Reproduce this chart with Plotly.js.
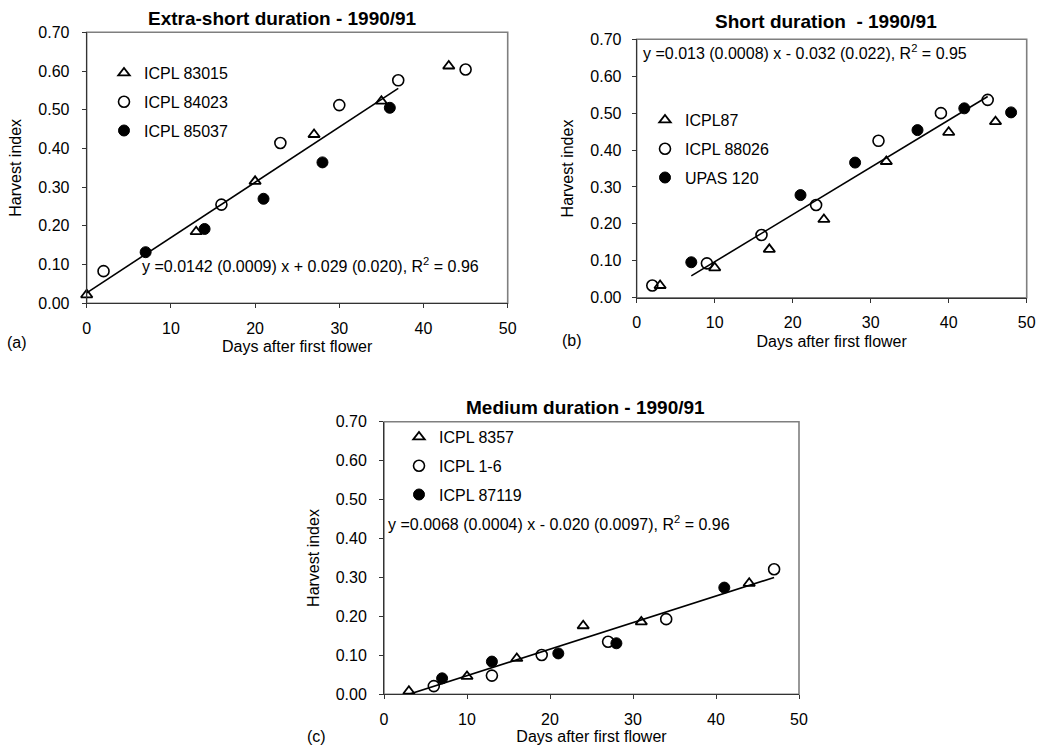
<!DOCTYPE html>
<html>
<head>
<meta charset="utf-8">
<script src="https://cdn.plot.ly/plotly-3.0.1.min.js"></script>
<style>html,body{margin:0;padding:0;background:#fff;}#chart{width:1046px;height:745px;}</style>
</head>
<body>
<div id="chart"></div>
<script>
// ---------- Panel (a): Extra-short duration ----------
const aTriX = [0, 13, 20, 27, 35, 43];
const aTriY = [0.022, 0.185, 0.315, 0.436, 0.522, 0.613];
const aOpenX = [2, 16, 23, 30, 37, 45];
const aOpenY = [0.083, 0.255, 0.414, 0.512, 0.576, 0.604];
const aFillX = [7, 14, 21, 28, 36];
const aFillY = [0.132, 0.192, 0.27, 0.364, 0.505];
const aFitX = [0, 37];
const aFitY = [0.027, 0.555];
const aNames = ["ICPL 83015", "ICPL 84023", "ICPL 85037"];
const aTitle = "Extra-short duration - 1990/91";
const aEq = "y =0.0142 (0.0009) x + 0.029 (0.020), R<sup>2</sup> = 0.96";

// ---------- Panel (b): Short duration ----------
const bTriX = [3, 10, 17, 24, 32, 40, 46];
const bTriY = [0.033, 0.081, 0.131, 0.212, 0.369, 0.448, 0.477];
const bOpenX = [2, 9, 16, 23, 31, 39, 45];
const bOpenY = [0.033, 0.093, 0.17, 0.251, 0.425, 0.5, 0.536];
const bFillX = [7, 21, 28, 36, 42, 48];
const bFillY = [0.096, 0.278, 0.366, 0.454, 0.513, 0.502];
const bFitX = [7, 45];
const bFitY = [0.059, 0.545];
const bNames = ["ICPL87", "ICPL 88026", "UPAS 120"];
const bTitle = "Short duration  - 1990/91";
const bEq = "y =0.013 (0.0008) x - 0.032 (0.022), R<sup>2</sup> = 0.95";

// ---------- Panel (c): Medium duration ----------
const cTriX = [3, 10, 16, 24, 31, 44];
const cTriY = [0.008, 0.046, 0.092, 0.176, 0.186, 0.285];
const cOpenX = [6, 13, 19, 27, 34, 47];
const cOpenY = [0.021, 0.048, 0.101, 0.135, 0.193, 0.321];
const cFillX = [7, 13, 21, 28, 41];
const cFillY = [0.041, 0.084, 0.105, 0.131, 0.274];
const cFitX = [3, 47];
const cFitY = [0.0, 0.30];
const cNames = ["ICPL 8357", "ICPL 1-6", "ICPL 87119"];
const cTitle = "Medium duration - 1990/91";
const cEq = "y =0.0068 (0.0004) x - 0.020 (0.0097), R<sup>2</sup> = 0.96";

const xTitle = "Days after first flower";
const yTitle = "Harvest index";
const panelLabels = ["(a)", "(b)", "(c)"];

const FONT = "Liberation Sans, Arial, Helvetica, sans-serif";
const W = 1046, H = 745;
const px = v => v / W;
const py = v => 1 - v / H;

function panelTraces(xa, ya, leg, tri, open, fill, fit, names) {
  const common = {type: "scatter", mode: "markers", xaxis: xa, yaxis: ya, legend: leg, cliponaxis: false, hoverinfo: "x+y"};
  return [
    Object.assign({}, common, {x: tri[0], y: tri[1], name: names[0], legendgroup: leg + "g1",
      marker: {symbol: "triangle-up-open", size: 10, color: "#000", line: {color: "#000", width: 1.8}}}),
    Object.assign({}, common, {x: open[0], y: open[1], name: names[1], legendgroup: leg + "g2",
      marker: {symbol: "circle-open", size: 11, color: "#000", line: {color: "#000", width: 1.6}}}),
    Object.assign({}, common, {x: fill[0], y: fill[1], name: names[2], legendgroup: leg + "g3",
      marker: {symbol: "circle", size: 11, color: "#000", line: {color: "#000", width: 1}}}),
    {type: "scatter", mode: "lines", x: fit[0], y: fit[1], xaxis: xa, yaxis: ya, showlegend: false,
      line: {color: "#000", width: 1.6}, hoverinfo: "skip"}
  ];
}

const data = [].concat(
  panelTraces("x", "y", "legend", [aTriX, aTriY], [aOpenX, aOpenY], [aFillX, aFillY], [aFitX, aFitY], aNames),
  panelTraces("x2", "y2", "legend2", [bTriX, bTriY], [bOpenX, bOpenY], [bFillX, bFillY], [bFitX, bFitY], bNames),
  panelTraces("x3", "y3", "legend3", [cTriX, cTriY], [cOpenX, cOpenY], [cFillX, cFillY], [cFitX, cFitY], cNames)
);

const tickFont = {family: FONT, size: 16, color: "#000"};
function xAxis(dom, anchor, standoffLab) {
  return {domain: dom, anchor: anchor, range: [0, 50], tick0: 0, dtick: 10, ticks: "outside", ticklen: 4,
    tickwidth: 1, tickcolor: "#333", showline: true, linecolor: "#333", linewidth: 1, showgrid: false,
    zeroline: false, tickfont: tickFont, ticklabelstandoff: standoffLab, fixedrange: true,
    title: {text: xTitle, font: {family: FONT, size: 16, color: "#000"}, standoff: 5}};
}
function yAxis(dom, anchor, standoffLab, titleStandoff) {
  return {domain: dom, anchor: anchor, range: [0, 0.7], tick0: 0, dtick: 0.1, tickformat: ".2f", ticks: "outside",
    ticklen: 4, tickwidth: 1, tickcolor: "#333", showline: true, linecolor: "#333", linewidth: 1, showgrid: false,
    zeroline: false, tickfont: tickFont, ticklabelstandoff: standoffLab, fixedrange: true,
    title: {text: yTitle, font: {family: FONT, size: 16, color: "#000"}, standoff: titleStandoff}};
}
function xOver(base, anchor) {
  return {overlaying: base, anchor: anchor, range: [0, 50], tick0: 0, dtick: 10, ticks: "inside", ticklen: 4,
    tickwidth: 1, tickcolor: "#333", showticklabels: false, showline: false, showgrid: false, zeroline: false, fixedrange: true};
}
function yOver(base, anchor) {
  return {overlaying: base, anchor: anchor, range: [0, 0.7], tick0: 0, dtick: 0.1, ticks: "inside", ticklen: 4,
    tickwidth: 1, tickcolor: "#333", showticklabels: false, showline: false, showgrid: false, zeroline: false, fixedrange: true};
}
function legendBox(x, y) {
  return {x: x, y: y, xanchor: "left", yanchor: "top", bgcolor: "rgba(0,0,0,0)", borderwidth: 0,
    traceorder: "grouped", tracegroupgap: 5, font: {family: FONT, size: 16, color: "#000"}};
}
function boxShape(xr, yr) {
  return {type: "rect", xref: xr + " domain", yref: yr + " domain", x0: 0, x1: 1, y0: 0, y1: 1,
    line: {color: "#7f7f7f", width: 1.6}, layer: "below"};
}
function note(text, x, y, opts) {
  return Object.assign({text: text, xref: "paper", yref: "paper", x: x, y: y, showarrow: false,
    xanchor: "left", yanchor: "middle", font: {family: FONT, size: 16, color: "#000"}}, opts || {});
}

const aX = [px(86.7), px(507.7)], aY = [py(303.3), py(32.3)];
const bX = [px(636.7), px(1026.7)], bY = [py(297.7), py(39.3)];
const cX = [px(384), px(799)], cY = [py(694.3), py(421.7)];

const layout = {
  width: W, height: H,
  margin: {l: 0, r: 0, t: 0, b: 0},
  paper_bgcolor: "#fff", plot_bgcolor: "rgba(0,0,0,0)",
  font: {family: FONT, size: 16, color: "#000"},
  xaxis: xAxis(aX, "y", 6), yaxis: yAxis(aY, "x", 9, 12),
  xaxis2: xAxis(bX, "y2", 6), yaxis2: yAxis(bY, "x2", 7, 12),
  xaxis3: xAxis(cX, "y3", 6), yaxis3: yAxis(cY, "x3", 9, 12),
  xaxis4: xOver("x", "y"), yaxis4: yOver("y", "x"),
  xaxis5: xOver("x2", "y2"), yaxis5: yOver("y2", "x2"),
  xaxis6: xOver("x3", "y3"), yaxis6: yOver("y3", "x3"),
  legend: legendBox(px(104), py(56)),
  legend2: legendBox(px(645), py(103)),
  legend3: legendBox(px(399), py(420)),
  shapes: [boxShape("x", "y"), boxShape("x2", "y2"), boxShape("x3", "y3")],
  annotations: [
    note("<b>" + aTitle + "</b>", px(282), py(18), {xanchor: "center", font: {family: FONT, size: 19, color: "#000"}}),
    note("<b>" + bTitle + "</b>", px(826), py(21), {xanchor: "center", font: {family: FONT, size: 19, color: "#000"}}),
    note("<b>" + cTitle + "</b>", px(585), py(407), {xanchor: "center", font: {family: FONT, size: 19, color: "#000"}}),
    note(aEq, px(140), py(265)),
    note(bEq, px(641), py(52)),
    note(cEq, px(386), py(523)),
    note(panelLabels[0], px(5), py(343)),
    note(panelLabels[1], px(560), py(340)),
    note(panelLabels[2], px(305), py(736))
  ],
  showlegend: true
};

Plotly.newPlot("chart", data, layout, {displayModeBar: false, staticPlot: true});
</script>
</body>
</html>
